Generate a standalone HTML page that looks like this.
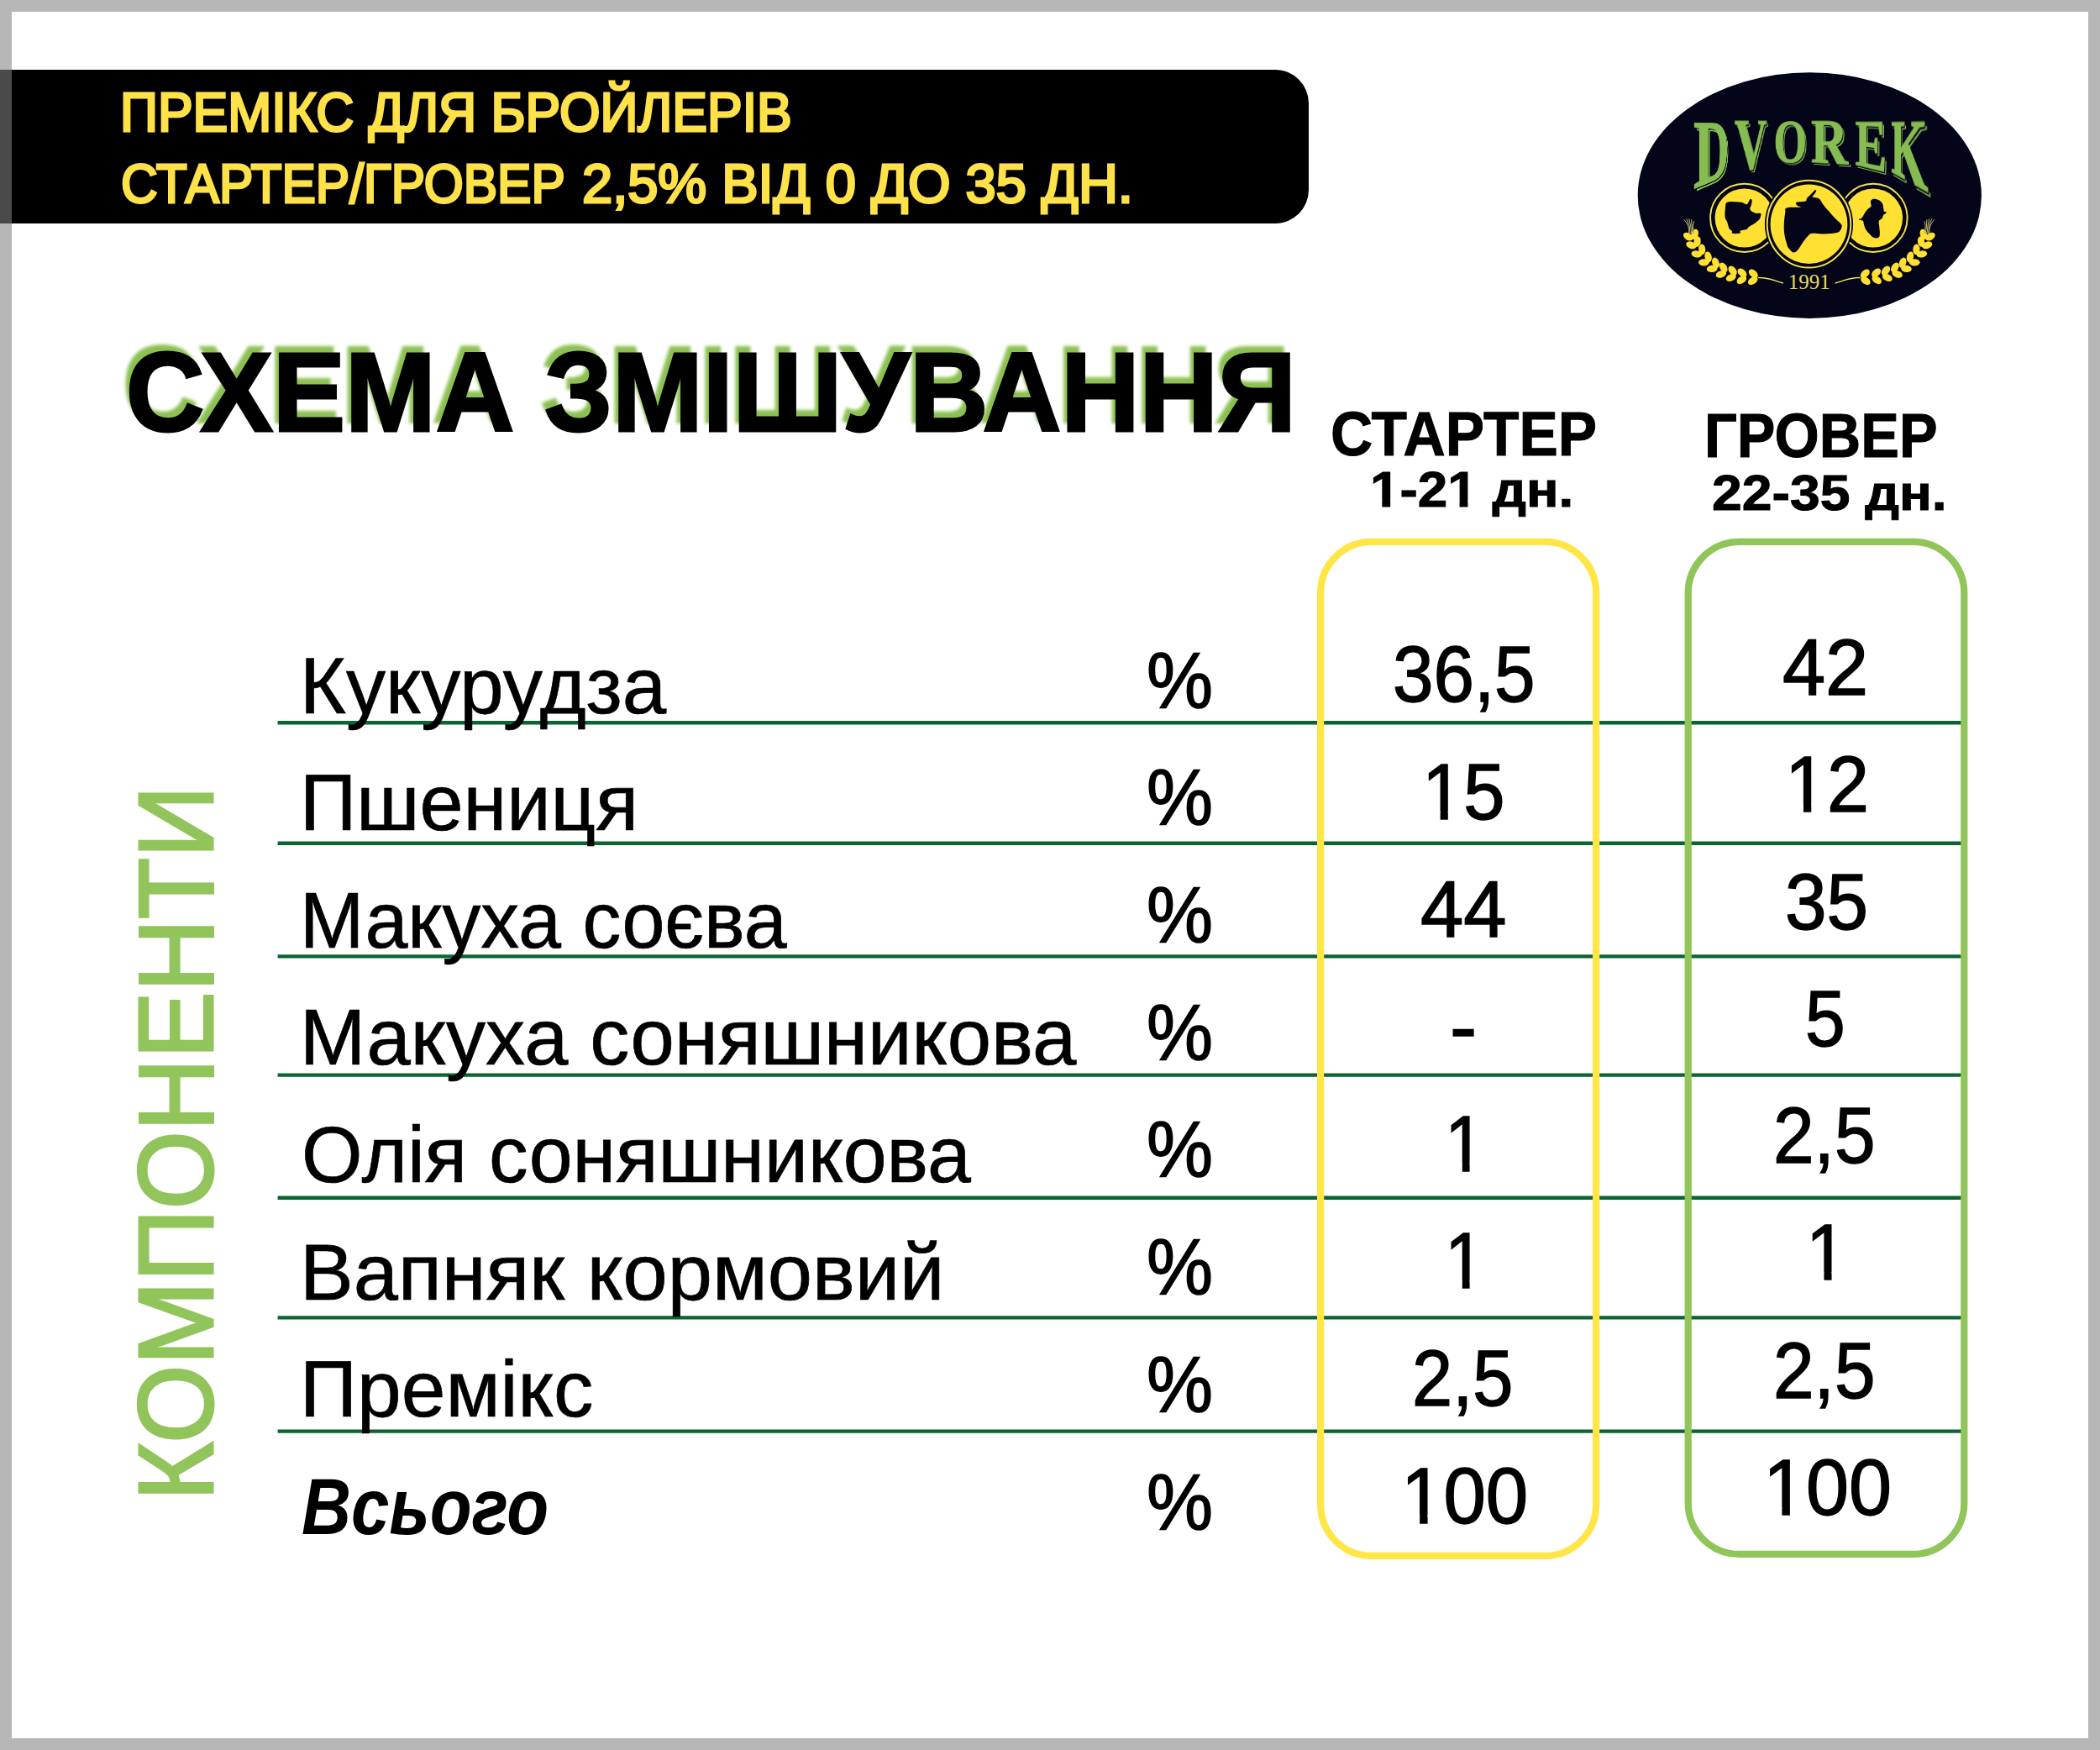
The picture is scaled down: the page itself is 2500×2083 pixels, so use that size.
<!DOCTYPE html>
<html lang="uk">
<head>
<meta charset="utf-8">
<title>Премікс для бройлерів — схема змішування</title>
<style>
html,body{margin:0;padding:0;background:#ffffff;}
body{width:2500px;height:2083px;position:relative;font-family:"Liberation Sans","DejaVu Sans",sans-serif;color:#000;}
#page{position:absolute;left:0;top:0;width:2500px;height:2083px;overflow:hidden;background:#ffffff;}
.t{position:absolute;display:block;white-space:nowrap;transform-origin:0 0;margin:0;padding:0;font-weight:400;}
.bl{margin:0;padding:0;}
.banner{position:absolute;left:0;top:83px;width:1557.8px;height:182.7px;background:#000;border-radius:0 40px 40px 0;}
.line{position:absolute;left:330.6px;width:2004.8000000000002px;background:#0b6431;}
.col{position:absolute;box-sizing:border-box;border-style:solid;}
.frame{position:absolute;left:0;top:0;width:2500px;height:2083px;box-sizing:border-box;border:14px solid #b7b7b7;pointer-events:none;}
.lt{font-family:"Liberation Serif","DejaVu Serif",serif;font-weight:700;color:#86bc52;-webkit-text-stroke:1px #86bc52;text-shadow:1.5px 1.5px 0 #05051a,3px 3px 0 #86bc52;}
.fdark{position:absolute;left:0;top:83px;width:14px;height:182.7px;background:#4a4a4a;}
#grid{position:absolute;left:0;top:0;}
#logo{position:absolute;left:1940px;top:76px;}
</style>
</head>
<body>
<div id="page">

<header>
<div class="banner"></div>
<p class="bl"><span class="t bt" style="left:142.95px;top:102.05px;font-size:64.68px;line-height:64.68px;transform:scaleX(0.9660);color:#ffe14a;-webkit-text-stroke:3.0px #ffe14a;">ПРЕМІКС ДЛЯ БРОЙЛЕРІВ</span></p>
<p class="bl"><span class="t bt" style="left:144.38px;top:187.35px;font-size:64.68px;line-height:64.68px;transform:scaleX(0.9351);color:#ffe14a;-webkit-text-stroke:3.0px #ffe14a;">СТАРТЕР/ГРОВЕР</span> <span class="t bt" style="left:693.26px;top:187.35px;font-size:64.68px;line-height:64.68px;transform:scaleX(1.0050);color:#ffe14a;-webkit-text-stroke:3.0px #ffe14a;">2,5% ВІД 0 ДО 35 ДН.</span></p>
</header>
<h1 class="t title" style="left:149.59px;top:401.24px;font-size:132.85px;line-height:132.85px;transform:scaleX(0.9733);font-weight:700;-webkit-text-stroke:3px #000;text-shadow:-6px -9px 4px #8cc152;">СХЕМА ЗМІШУВАННЯ</h1>
<div class="t hd" style="left:1584.09px;top:480.97px;font-size:73.40px;line-height:73.40px;transform:scaleX(0.9465);font-weight:700;-webkit-text-stroke:1.0px #000;">СТАРТЕР</div>
<div class="t hd" style="left:1630.97px;top:554.07px;font-size:58.87px;line-height:58.87px;transform:scaleX(1.0844);font-weight:700;-webkit-text-stroke:1.0px #000;clip-path:polygon(-17.66px -17.66px,241.11px -17.66px,241.11px 76.53px,117.63px 76.53px,117.63px 41.41px,107.36px 41.41px,107.36px 76.53px,98.27px 76.53px,98.27px 41.41px,87.26px 41.41px,87.26px 76.53px,32.55px 76.53px,32.55px 41.41px,22.28px 41.41px,22.28px 76.53px,13.19px 76.53px,13.19px 41.41px,2.18px 41.41px,2.18px 76.53px,-17.66px 76.53px);">1-21 дн.</div>
<div class="t hd" style="left:2029.41px;top:483.07px;font-size:73.40px;line-height:73.40px;transform:scaleX(0.9331);font-weight:700;-webkit-text-stroke:1.0px #000;">ГРОВЕР</div>
<div class="t hd" style="left:2037.70px;top:557.57px;font-size:58.87px;line-height:58.87px;transform:scaleX(1.0920);font-weight:700;-webkit-text-stroke:1.0px #000;">22-35 дн.</div>
<svg id="grid" width="2500" height="2083" viewBox="0 0 2500 2083" aria-hidden="true">
<g stroke="#0b6431" stroke-width="4.3">
<line x1="330.6" y1="860.25" x2="2335.4" y2="860.25"/>
<line x1="330.6" y1="1003.75" x2="2335.4" y2="1003.75"/>
<line x1="330.6" y1="1138.45" x2="2335.4" y2="1138.45"/>
<line x1="330.6" y1="1279.55" x2="2335.4" y2="1279.55"/>
<line x1="330.6" y1="1425.75" x2="2335.4" y2="1425.75"/>
<line x1="330.6" y1="1568.35" x2="2335.4" y2="1568.35"/>
<line x1="330.6" y1="1703.55" x2="2335.4" y2="1703.55"/>
</g>
<rect x="1572.10" y="644.90" width="328.00" height="1207.00" rx="60.90" fill="none" stroke="#ffe545" stroke-width="8.2"/>
<rect x="2009.70" y="644.90" width="328.60" height="1205.00" rx="60.90" fill="none" stroke="#90c55a" stroke-width="8.2"/>
</svg>
<div class="t rw" style="left:357.21px;top:768.71px;font-size:94.91px;line-height:94.91px;transform:scaleX(0.9927);-webkit-text-stroke:0.7px #000;">Кукурудза</div>
<div class="t rw" style="left:357.25px;top:908.21px;font-size:94.91px;line-height:94.91px;transform:scaleX(0.9869);-webkit-text-stroke:0.7px #000;">Пшениця</div>
<div class="t rw" style="left:357.41px;top:1047.71px;font-size:94.91px;line-height:94.91px;transform:scaleX(0.9657);-webkit-text-stroke:0.7px #000;">Макуха соєва</div>
<div class="t rw" style="left:357.22px;top:1187.21px;font-size:94.91px;line-height:94.91px;transform:scaleX(0.9910);-webkit-text-stroke:0.7px #000;">Макуха соняшникова</div>
<div class="t rw" style="left:359.15px;top:1326.91px;font-size:94.91px;line-height:94.91px;transform:scaleX(0.9825);-webkit-text-stroke:0.7px #000;">Олія соняшникова</div>
<div class="t rw" style="left:357.10px;top:1466.51px;font-size:94.91px;line-height:94.91px;transform:scaleX(1.0075);-webkit-text-stroke:0.7px #000;">Вапняк кормовий</div>
<div class="t rw" style="left:357.17px;top:1605.71px;font-size:94.91px;line-height:94.91px;transform:scaleX(0.9981);-webkit-text-stroke:0.7px #000;">Премікс</div>
<div class="t rw" style="left:358.97px;top:1746.33px;font-size:94.48px;line-height:94.48px;transform:scaleX(0.8638);font-weight:700;font-style:italic;">Всього</div>
<div class="t pc" style="left:1364.89px;top:761.66px;font-size:95.20px;line-height:95.20px;transform:scaleX(0.9338);-webkit-text-stroke:1.5px #000;">%</div>
<div class="t pc" style="left:1364.89px;top:901.36px;font-size:95.20px;line-height:95.20px;transform:scaleX(0.9338);-webkit-text-stroke:1.5px #000;">%</div>
<div class="t pc" style="left:1364.89px;top:1041.06px;font-size:95.20px;line-height:95.20px;transform:scaleX(0.9338);-webkit-text-stroke:1.5px #000;">%</div>
<div class="t pc" style="left:1364.89px;top:1180.76px;font-size:95.20px;line-height:95.20px;transform:scaleX(0.9338);-webkit-text-stroke:1.5px #000;">%</div>
<div class="t pc" style="left:1364.89px;top:1320.46px;font-size:95.20px;line-height:95.20px;transform:scaleX(0.9338);-webkit-text-stroke:1.5px #000;">%</div>
<div class="t pc" style="left:1364.89px;top:1460.16px;font-size:95.20px;line-height:95.20px;transform:scaleX(0.9338);-webkit-text-stroke:1.5px #000;">%</div>
<div class="t pc" style="left:1364.89px;top:1599.86px;font-size:95.20px;line-height:95.20px;transform:scaleX(0.9338);-webkit-text-stroke:1.5px #000;">%</div>
<div class="t pc" style="left:1364.89px;top:1739.56px;font-size:95.20px;line-height:95.20px;transform:scaleX(0.9338);-webkit-text-stroke:1.5px #000;">%</div>
<div class="t v" style="left:1657.61px;top:756.49px;font-size:93.75px;line-height:93.75px;transform:scaleX(0.9294);-webkit-text-stroke:1.5px #000;">36,5</div>
<div class="t v" style="left:1692.80px;top:896.09px;font-size:93.75px;line-height:93.75px;transform:scaleX(0.9440);-webkit-text-stroke:1.5px #000;clip-path:polygon(-28.13px -28.13px,132.40px -28.13px,132.40px 121.88px,49.33px 121.88px,49.33px 69.64px,32.63px 69.64px,32.63px 121.88px,22.92px 121.88px,22.92px 69.64px,5.28px 69.64px,5.28px 121.88px,-28.13px 121.88px);">15</div>
<div class="t v" style="left:1691.03px;top:1036.29px;font-size:93.75px;line-height:93.75px;transform:scaleX(0.9824);-webkit-text-stroke:1.5px #000;">44</div>
<div class="t v" style="left:1726.23px;top:1175.29px;font-size:93.75px;line-height:93.75px;transform:scaleX(1.0299);-webkit-text-stroke:1.5px #000;">-</div>
<div class="t v" style="left:1720.40px;top:1315.19px;font-size:93.75px;line-height:93.75px;transform:scaleX(0.9073);-webkit-text-stroke:1.5px #000;clip-path:polygon(-28.13px -28.13px,80.26px -28.13px,80.26px 121.88px,49.33px 121.88px,49.33px 69.64px,32.63px 69.64px,32.63px 121.88px,22.92px 121.88px,22.92px 69.64px,5.28px 69.64px,5.28px 121.88px,-28.13px 121.88px);">1</div>
<div class="t v" style="left:1720.40px;top:1454.39px;font-size:93.75px;line-height:93.75px;transform:scaleX(0.9073);-webkit-text-stroke:1.5px #000;clip-path:polygon(-28.13px -28.13px,80.26px -28.13px,80.26px 121.88px,49.33px 121.88px,49.33px 69.64px,32.63px 69.64px,32.63px 121.88px,22.92px 121.88px,22.92px 69.64px,5.28px 69.64px,5.28px 121.88px,-28.13px 121.88px);">1</div>
<div class="t v" style="left:1680.56px;top:1593.99px;font-size:93.75px;line-height:93.75px;transform:scaleX(0.9232);-webkit-text-stroke:1.5px #000;">2,5</div>
<div class="t v" style="left:1667.91px;top:1733.69px;font-size:93.75px;line-height:93.75px;transform:scaleX(0.9669);-webkit-text-stroke:1.5px #000;clip-path:polygon(-28.13px -28.13px,184.54px -28.13px,184.54px 121.88px,49.33px 121.88px,49.33px 69.64px,32.63px 69.64px,32.63px 121.88px,22.92px 121.88px,22.92px 69.64px,5.28px 69.64px,5.28px 121.88px,-28.13px 121.88px);">100</div>
<div class="t v" style="left:2122.44px;top:747.59px;font-size:93.75px;line-height:93.75px;transform:scaleX(0.9794);-webkit-text-stroke:1.5px #000;">42</div>
<div class="t v" style="left:2124.59px;top:886.89px;font-size:93.75px;line-height:93.75px;transform:scaleX(0.9579);-webkit-text-stroke:1.5px #000;clip-path:polygon(-28.13px -28.13px,132.40px -28.13px,132.40px 121.88px,49.33px 121.88px,49.33px 69.64px,32.63px 69.64px,32.63px 121.88px,22.92px 121.88px,22.92px 69.64px,5.28px 69.64px,5.28px 121.88px,-28.13px 121.88px);">12</div>
<div class="t v" style="left:2124.55px;top:1026.89px;font-size:93.75px;line-height:93.75px;transform:scaleX(0.9494);-webkit-text-stroke:1.5px #000;">35</div>
<div class="t v" style="left:2149.46px;top:1165.69px;font-size:93.75px;line-height:93.75px;transform:scaleX(0.9146);-webkit-text-stroke:1.5px #000;">5</div>
<div class="t v" style="left:2111.33px;top:1305.29px;font-size:93.75px;line-height:93.75px;transform:scaleX(0.9321);-webkit-text-stroke:1.5px #000;">2,5</div>
<div class="t v" style="left:2150.47px;top:1444.39px;font-size:93.75px;line-height:93.75px;transform:scaleX(0.9359);-webkit-text-stroke:1.5px #000;clip-path:polygon(-28.13px -28.13px,80.26px -28.13px,80.26px 121.88px,49.33px 121.88px,49.33px 69.64px,32.63px 69.64px,32.63px 121.88px,22.92px 121.88px,22.92px 69.64px,5.28px 69.64px,5.28px 121.88px,-28.13px 121.88px);">1</div>
<div class="t v" style="left:2111.33px;top:1585.09px;font-size:93.75px;line-height:93.75px;transform:scaleX(0.9321);-webkit-text-stroke:1.5px #000;">2,5</div>
<div class="t v" style="left:2098.62px;top:1724.29px;font-size:93.75px;line-height:93.75px;transform:scaleX(0.9779);-webkit-text-stroke:1.5px #000;clip-path:polygon(-28.13px -28.13px,184.54px -28.13px,184.54px 121.88px,49.33px 121.88px,49.33px 69.64px,32.63px 69.64px,32.63px 121.88px,22.92px 121.88px,22.92px 69.64px,5.28px 69.64px,5.28px 121.88px,-28.13px 121.88px);">100</div>
<div class="t vt" style="left:0;top:0;font-size:126.31px;line-height:126.31px;color:#92c45c;transform:translate(147.18px,1786.15px) rotate(-90deg) scaleX(0.9466);-webkit-text-stroke:3px #92c45c;">КОМПОНЕНТИ</div>
<svg id="logo" width="430" height="315" viewBox="1940 76 430 315" role="img" aria-label="DVOREK 1991">
<ellipse cx="2154.3" cy="232.6" rx="204.6" ry="146.3" fill="#05051a"/>
<circle cx="2076.7" cy="259.4" r="40.6" fill="none" stroke="#f2e255" stroke-width="1.9"/>
<circle cx="2076.7" cy="259.5" r="35.1" fill="#ffe033"/>
<circle cx="2230.0" cy="259.4" r="40.6" fill="none" stroke="#f2e255" stroke-width="1.9"/>
<circle cx="2230.0" cy="259.5" r="35.1" fill="#ffe033"/>
<ellipse cx="2153.5" cy="266.7" rx="52.6" ry="54.6" fill="#05051a"/>
<ellipse cx="2153.5" cy="266.7" rx="49.8" ry="51.9" fill="none" stroke="#f2e255" stroke-width="2"/>
<ellipse cx="2153.5" cy="266.7" rx="45.9" ry="47.2" fill="#ffe033"/>
<path d="M2055.9 241.1C2058.1 239.7 2061.3 240.2 2065.0 240.2C2068.7 240.2 2071.3 240.5 2074.1 241.1C2077.0 241.8 2077.8 243.5 2079.3 243.4C2080.8 243.3 2080.7 241.9 2081.6 240.6C2082.5 239.2 2083.0 237.1 2083.9 236.7C2084.7 236.4 2085.5 237.3 2085.7 238.9C2085.9 240.4 2085.2 242.3 2084.7 244.3C2084.3 246.3 2083.0 247.3 2083.4 248.9C2083.8 250.5 2085.3 251.3 2086.7 252.3C2088.2 253.3 2088.9 253.5 2090.7 253.9C2092.5 254.3 2094.8 253.4 2095.9 254.1C2096.9 254.8 2096.5 255.8 2096.0 257.4C2095.6 259.0 2095.2 260.3 2093.6 262.1C2091.9 263.9 2090.1 265.0 2087.9 266.6C2085.6 268.1 2083.9 268.7 2082.1 270.0C2080.4 271.3 2081.3 271.9 2079.3 272.9C2077.3 273.8 2073.5 273.6 2072.0 274.6C2070.4 275.5 2073.3 276.9 2071.4 277.5C2069.5 278.2 2064.7 278.4 2062.7 277.8C2060.7 277.2 2062.4 275.7 2061.6 274.6C2060.8 273.5 2059.8 274.3 2058.7 272.3C2057.6 270.2 2057.2 267.0 2056.1 264.3C2055.1 261.5 2054.0 262.0 2053.6 258.6C2053.1 255.1 2053.6 250.6 2054.0 247.1C2054.5 243.7 2053.7 242.5 2055.9 241.1Z" fill="#05051a"/>
<path d="M2161.0 225.9C2161.5 226.0 2162.5 226.5 2162.2 227.6C2161.9 228.8 2160.4 230.4 2159.5 231.7C2158.6 233.1 2157.1 233.7 2157.7 234.5C2158.4 235.2 2161.1 234.9 2162.9 235.5C2164.7 236.1 2165.2 236.0 2166.7 237.6C2168.2 239.1 2168.3 240.6 2170.4 243.4C2172.6 246.2 2174.5 248.5 2177.3 251.6C2180.0 254.8 2181.3 256.2 2184.1 259.2C2187.0 262.2 2190.0 264.5 2191.7 266.7C2193.4 268.9 2192.6 268.7 2192.5 270.1C2192.4 271.5 2192.3 272.3 2191.0 273.7C2189.7 275.1 2190.3 276.2 2186.2 277.1C2182.1 278.1 2176.1 278.4 2170.4 278.5C2164.8 278.6 2161.5 277.6 2158.1 277.8C2154.7 278.1 2155.5 278.0 2153.3 279.9C2151.1 281.8 2149.7 283.7 2147.1 287.3C2144.5 290.8 2142.6 294.9 2140.3 297.6C2137.9 300.2 2137.4 300.6 2135.5 300.5C2133.5 300.3 2132.3 298.8 2130.7 296.9C2129.0 294.9 2128.6 295.4 2127.2 290.7C2125.9 286.1 2124.2 281.1 2123.8 273.6C2123.4 266.0 2124.5 258.2 2125.2 253.0C2125.9 247.8 2123.7 248.8 2127.2 247.5C2130.8 246.2 2140.5 247.0 2143.0 246.5C2145.5 245.9 2140.5 245.9 2139.6 244.8C2138.7 243.7 2136.7 242.0 2138.6 241.0C2140.5 240.0 2146.7 240.6 2149.2 239.6C2151.6 238.7 2149.7 237.8 2150.9 236.2C2152.1 234.6 2153.6 233.5 2155.3 231.7C2157.1 230.0 2158.3 228.5 2159.5 227.3C2160.6 226.1 2160.4 225.8 2161.0 225.9Z" fill="#05051a"/>
<path d="M2228.6 237.4C2230.3 236.6 2231.9 236.8 2234.3 237.3C2236.7 237.8 2237.2 238.4 2238.9 239.7C2240.5 241.1 2240.4 241.0 2241.3 243.1C2242.1 245.3 2242.0 246.9 2242.4 248.9C2242.8 250.8 2242.2 250.7 2243.0 251.6C2243.8 252.5 2246.0 251.9 2245.8 252.9C2245.7 253.8 2243.6 254.2 2242.4 255.8C2241.2 257.4 2241.6 258.4 2240.7 259.7C2239.8 261.0 2239.3 260.5 2238.4 261.4C2237.5 262.4 2237.0 261.7 2236.7 263.7C2236.4 265.7 2237.0 266.5 2237.3 270.0C2237.5 273.5 2238.1 275.6 2237.8 278.6C2237.6 281.5 2237.9 281.7 2236.1 282.7C2234.4 283.6 2232.7 283.6 2230.3 282.7C2227.9 281.7 2227.8 280.9 2225.7 278.6C2223.6 276.3 2222.7 275.5 2221.1 272.9C2219.5 270.2 2219.6 269.5 2218.9 267.1C2218.1 264.8 2219.2 264.2 2217.8 262.9C2216.5 261.5 2213.3 262.3 2213.0 261.4C2212.8 260.5 2215.1 260.9 2216.7 259.0C2218.3 257.2 2218.4 255.8 2220.0 253.4C2221.6 251.1 2221.7 250.7 2223.4 248.9C2225.2 247.0 2226.7 247.3 2227.5 245.4C2228.3 243.6 2226.6 242.7 2226.9 240.9C2227.1 239.0 2226.8 238.3 2228.6 237.4Z" fill="#05051a"/>
<g fill="#ffe033"><ellipse cx="2017.6" cy="278.9" rx="6.4" ry="4.1" transform="rotate(288 2017.6 278.9)"/><ellipse cx="2009.7" cy="281.7" rx="6.4" ry="4.1" transform="rotate(212 2009.7 281.7)"/><ellipse cx="2020.6" cy="287.5" rx="6.4" ry="4.1" transform="rotate(277 2020.6 287.5)"/><ellipse cx="2013.4" cy="291.8" rx="6.4" ry="4.1" transform="rotate(201 2013.4 291.8)"/><ellipse cx="2026.2" cy="296.9" rx="6.4" ry="4.1" transform="rotate(267 2026.2 296.9)"/><ellipse cx="2019.8" cy="302.4" rx="6.4" ry="4.1" transform="rotate(191 2019.8 302.4)"/><ellipse cx="2033.6" cy="305.7" rx="6.4" ry="4.1" transform="rotate(256 2033.6 305.7)"/><ellipse cx="2028.4" cy="312.3" rx="6.4" ry="4.1" transform="rotate(180 2028.4 312.3)"/><ellipse cx="2042.5" cy="312.7" rx="6.4" ry="4.1" transform="rotate(249 2042.5 312.7)"/><ellipse cx="2038.2" cy="319.9" rx="6.4" ry="4.1" transform="rotate(173 2038.2 319.9)"/><ellipse cx="2051.7" cy="318.4" rx="6.4" ry="4.1" transform="rotate(237 2051.7 318.4)"/><ellipse cx="2048.9" cy="326.3" rx="6.4" ry="4.1" transform="rotate(161 2048.9 326.3)"/><ellipse cx="2062.6" cy="322.2" rx="6.4" ry="4.1" transform="rotate(231 2062.6 322.2)"/><ellipse cx="2060.8" cy="330.4" rx="6.4" ry="4.1" transform="rotate(155 2060.8 330.4)"/><ellipse cx="2074.0" cy="324.8" rx="6.4" ry="4.1" transform="rotate(222 2074.0 324.8)"/><ellipse cx="2073.4" cy="333.2" rx="6.4" ry="4.1" transform="rotate(146 2073.4 333.2)"/><ellipse cx="2087.3" cy="325.8" rx="6.4" ry="4.1" transform="rotate(222 2087.3 325.8)"/><ellipse cx="2086.7" cy="334.2" rx="6.4" ry="4.1" transform="rotate(146 2086.7 334.2)"/></g><path d="M2010.5 278.3Q2011.9 268.3 2004.7 261.3M2012.1 278.3Q2012.5 268.3 2007.7 260.3M2013.7 278.3Q2013.1 268.3 2010.7 260.3M2015.3 278.3Q2013.7 268.3 2013.7 261.3M2016.9 278.3Q2014.3 268.3 2016.7 263.3" fill="none" stroke="#bdb56a" stroke-width="1"/><path d="M2093.0 330.5C2107.0 330.0 2113.0 335.0 2123.0 337.0" fill="none" stroke="#f2e255" stroke-width="1.3"/>
<g fill="#ffe033"><ellipse cx="2297.9" cy="281.7" rx="6.4" ry="4.1" transform="rotate(328 2297.9 281.7)"/><ellipse cx="2290.0" cy="278.9" rx="6.4" ry="4.1" transform="rotate(252 2290.0 278.9)"/><ellipse cx="2294.2" cy="291.8" rx="6.4" ry="4.1" transform="rotate(339 2294.2 291.8)"/><ellipse cx="2287.0" cy="287.5" rx="6.4" ry="4.1" transform="rotate(263 2287.0 287.5)"/><ellipse cx="2287.8" cy="302.4" rx="6.4" ry="4.1" transform="rotate(349 2287.8 302.4)"/><ellipse cx="2281.4" cy="296.9" rx="6.4" ry="4.1" transform="rotate(273 2281.4 296.9)"/><ellipse cx="2279.2" cy="312.3" rx="6.4" ry="4.1" transform="rotate(360 2279.2 312.3)"/><ellipse cx="2274.0" cy="305.7" rx="6.4" ry="4.1" transform="rotate(284 2274.0 305.7)"/><ellipse cx="2269.4" cy="319.9" rx="6.4" ry="4.1" transform="rotate(367 2269.4 319.9)"/><ellipse cx="2265.1" cy="312.7" rx="6.4" ry="4.1" transform="rotate(291 2265.1 312.7)"/><ellipse cx="2258.7" cy="326.3" rx="6.4" ry="4.1" transform="rotate(379 2258.7 326.3)"/><ellipse cx="2255.9" cy="318.4" rx="6.4" ry="4.1" transform="rotate(303 2255.9 318.4)"/><ellipse cx="2246.8" cy="330.4" rx="6.4" ry="4.1" transform="rotate(385 2246.8 330.4)"/><ellipse cx="2245.0" cy="322.2" rx="6.4" ry="4.1" transform="rotate(309 2245.0 322.2)"/><ellipse cx="2234.2" cy="333.2" rx="6.4" ry="4.1" transform="rotate(394 2234.2 333.2)"/><ellipse cx="2233.6" cy="324.8" rx="6.4" ry="4.1" transform="rotate(318 2233.6 324.8)"/><ellipse cx="2220.9" cy="334.2" rx="6.4" ry="4.1" transform="rotate(394 2220.9 334.2)"/><ellipse cx="2220.3" cy="325.8" rx="6.4" ry="4.1" transform="rotate(318 2220.3 325.8)"/></g><path d="M2297.1 278.3Q2295.7 268.3 2302.9 261.3M2295.5 278.3Q2295.1 268.3 2299.9 260.3M2293.9 278.3Q2294.5 268.3 2296.9 260.3M2292.3 278.3Q2293.9 268.3 2293.9 261.3M2290.7 278.3Q2293.3 268.3 2290.9 263.3" fill="none" stroke="#bdb56a" stroke-width="1"/><path d="M2214.6 330.5C2200.6 330.0 2194.6 335.0 2184.6 337.0" fill="none" stroke="#f2e255" stroke-width="1.3"/>
<text x="2153.8" y="343.6" text-anchor="middle" font-family="'Liberation Serif','DejaVu Serif',serif" font-size="25" fill="#e6d964" textLength="50" lengthAdjust="spacingAndGlyphs">1991</text>
</svg>
<div class="brand" aria-label="DVOREK">
<span class="t lt" style="left:0;top:0;font-size:80px;line-height:80px;transform:matrix3d(11.0207,0.73556,0,0.00500154,-2.86274e-15,1.47738,0,-0,0,0,1,0,2015.88,125.792,0,1)">D</span>
<span class="t lt" style="left:0;top:0;font-size:80px;line-height:80px;transform:matrix3d(3.58884,0.201173,0,0.00138658,-1.7824e-13,1.11545,0,-8.88941e-17,0,0,1,0,2064.79,128.577,0,1)">V</span>
<span class="t lt" style="left:0;top:0;font-size:80px;line-height:80px;transform:matrix3d(1.13849,0.0338985,0,0.000233645,-6.1739e-14,0.907742,0,-3.15696e-17,0,0,1,0,2111.56,132.377,0,1)">O</span>
<span class="t lt" style="left:0;top:0;font-size:80px;line-height:80px;transform:matrix3d(-1.32599,-0.137777,0,-0.000949628,-2.00056e-13,0.916171,0,-9.3906e-17,0,0,1,0,2155.93,131.526,0,1)">R</span>
<span class="t lt" style="left:0;top:0;font-size:80px;line-height:80px;transform:matrix3d(-5.88074,-0.428012,0,-0.00293466,-2.80534e-13,0.950476,0,-1.2827e-16,0,0,1,0,2208.65,132.161,0,1)">E</span>
<span class="t lt" style="left:0;top:0;font-size:80px;line-height:80px;transform:matrix3d(-10.3083,-0.7037,0,-0.00479982,-1.25082e-13,1.10423,0,-5.52512e-17,0,0,1,0,2251.44,130.267,0,1)">K</span>
</div>
<div class="frame"></div><div class="fdark"></div>
</div>
</body>
</html>
